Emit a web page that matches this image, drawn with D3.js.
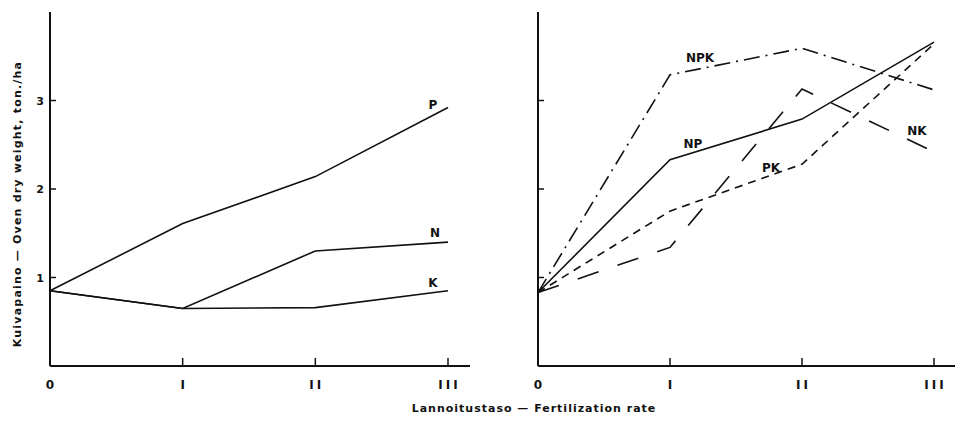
<!DOCTYPE html>
<html>
<head>
<meta charset="utf-8">
<script src="https://cdn.jsdelivr.net/npm/d3@7"></script>
<style>
  body { margin: 0; background: #fff; }
  text { font-family: "DejaVu Sans", sans-serif; font-weight: bold; fill: #111; }
</style>
</head>
<body>
<svg id="chart" width="955" height="423"></svg>
<script>
// fertilization levels
var levels = ["0", "I", "II", "III"];
var yTicks = [1, 2, 3];

// left panel: single nutrients
var seriesP = [0.85, 1.61, 2.14, 2.92];
var seriesN = [0.85, 0.65, 1.30, 1.40];
var seriesK = [0.85, 0.65, 0.66, 0.85];

// right panel: combinations
var seriesNPK = [0.83, 3.29, 3.59, 3.12];
var seriesNP  = [0.83, 2.33, 2.79, 3.66];
var seriesPK  = [0.83, 1.75, 2.28, 3.64];
var seriesNK  = [0.83, 1.34, 3.13, 2.42];

var svg = d3.select("#chart");

function panel(opt) {
  var g = svg.append("g");
  var x = d3.scalePoint().domain(levels).range([opt.x0, opt.x1]);
  var y = d3.scaleLinear().domain([0, 4]).range([366, 12]);

  // axes as plain lines
  g.append("line").attr("x1", opt.x0).attr("x2", opt.x0)
    .attr("y1", y(4)).attr("y2", y(0))
    .attr("stroke", "#111").attr("stroke-width", 2);
  g.append("line").attr("x1", opt.x0).attr("x2", opt.axisEnd)
    .attr("y1", y(0)).attr("y2", y(0))
    .attr("stroke", "#111").attr("stroke-width", 2);

  // y ticks inward
  g.selectAll(".yt").data(yTicks).enter().append("line")
    .attr("x1", opt.x0).attr("x2", opt.x0 + 6)
    .attr("y1", function(d) { return y(d); })
    .attr("y2", function(d) { return y(d); })
    .attr("stroke", "#111").attr("stroke-width", 1.5);
  if (opt.yLabels) {
    g.selectAll(".yl").data(yTicks).enter().append("text")
      .attr("x", opt.x0 - 10).attr("y", function(d) { return y(d) + 4; })
      .attr("text-anchor", "middle").style("font-size", "11px")
      .text(function(d) { return d; });
  }

  // x ticks inward
  g.selectAll(".xt").data(levels.slice(1)).enter().append("line")
    .attr("x1", function(d) { return x(d); })
    .attr("x2", function(d) { return x(d); })
    .attr("y1", y(0)).attr("y2", y(0) - 8)
    .attr("stroke", "#111").attr("stroke-width", 1.5);
  g.selectAll(".xl").data(levels).enter().append("text")
    .attr("x", function(d) { return x(d) + 1.5; }).attr("y", 389)
    .attr("text-anchor", "middle").style("font-size", "12px")
    .style("letter-spacing", "3px")
    .text(function(d) { return d; });

  var line = d3.line()
    .x(function(d, i) { return x(levels[i]); })
    .y(function(d) { return y(d); });

  opt.series.forEach(function(s) {
    g.append("path").datum(s.values)
      .attr("d", line)
      .attr("fill", "none").attr("stroke", "#111")
      .attr("stroke-width", 1.6)
      .attr("stroke-dasharray", s.dash || null);
    g.append("text")
      .attr("x", s.lx).attr("y", s.ly)
      .attr("text-anchor", "middle").style("font-size", "12px")
      .text(s.name);
  });
}

panel({
  x0: 50, x1: 448, axisEnd: 470, yLabels: true,
  series: [
    { name: "P", values: seriesP, lx: 433, ly: 109 },
    { name: "N", values: seriesN, lx: 435, ly: 237 },
    { name: "K", values: seriesK, lx: 433, ly: 287 }
  ]
});

panel({
  x0: 538, x1: 934, axisEnd: 955, yLabels: false,
  series: [
    { name: "NPK", values: seriesNPK, dash: "16,6,2,6", lx: 700, ly: 62 },
    { name: "NP", values: seriesNP, lx: 693, ly: 148 },
    { name: "PK", values: seriesPK, dash: "8,6", lx: 771, ly: 172 },
    { name: "NK", values: seriesNK, dash: "22,20", lx: 917, ly: 135 }
  ]
});

// axis titles
svg.append("text")
  .attr("transform", "translate(21,204) rotate(-90)")
  .attr("text-anchor", "middle").style("font-size", "11px")
  .style("letter-spacing", "1.2px")
  .text("Kuivapaino — Oven dry weight, ton./ha");

svg.append("text")
  .attr("x", 534).attr("y", 412)
  .attr("text-anchor", "middle").style("font-size", "11px")
  .style("letter-spacing", "1px")
  .text("Lannoitustaso — Fertilization rate");
</script>
</body>
</html>
